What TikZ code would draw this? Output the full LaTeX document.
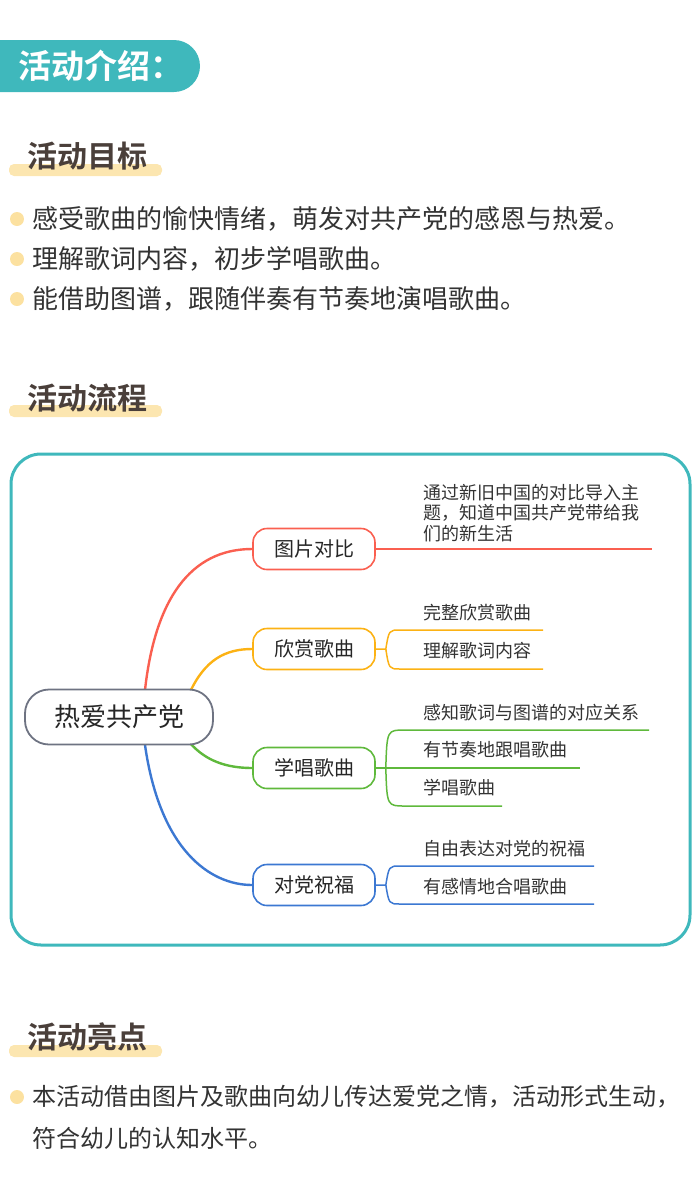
\documentclass[tikz,border=0pt]{standalone}
\usepackage{fontspec}
\setmainfont{Noto Sans CJK SC}
\newfontfamily\cjkb{Noto Sans CJK SC Bold}
\begin{document}
\begin{tikzpicture}[x=1pt,y=-1pt,
  txt/.style={anchor=west,inner sep=0pt,text=black!80,font=\fontsize{26}{30}\selectfont},
  ttl/.style={anchor=west,inner sep=0pt,text={rgb,255:red,74;green,63;blue,58},font=\cjkb\fontsize{30}{34}\selectfont},
  bar/.style={fill={rgb,255:red,252;green,230;blue,176},rounded corners=5pt},
  dot/.style={circle,fill={rgb,255:red,252;green,225;blue,160},minimum size=14pt,inner sep=0pt},
  nd/.style={draw,line width=1.6pt,rounded corners=14pt,minimum width=122pt,minimum height=41pt,fill=white,text=black!85,font=\fontsize{20}{24}\selectfont},
  lf/.style={anchor=west,inner sep=0pt,text=black!80,font=\fontsize{18}{20}\selectfont},
  br/.style={line width=1.8pt},
  thinbr/.style={line width=1.5pt}]
\definecolor{teal}{RGB}{63,184,188}
\definecolor{rd}{RGB}{250,95,80}
\definecolor{og}{RGB}{252,178,20}
\definecolor{gn}{RGB}{95,185,60}
\definecolor{bl}{RGB}{60,120,210}
\useasboundingbox (0,0) rectangle (700,1189);
% header
\begin{scope}
\clip (0,0) rectangle (700,1189);
\fill[teal,rounded corners=26pt] (-40,40) rectangle (200,92);
\end{scope}
\node[anchor=west,inner sep=0pt,text=white,font=\cjkb\fontsize{33}{36}\selectfont] (hdr) at (18,66) {活动介绍：};
% section 1
\fill[bar] (9,164) rectangle (162,176);
\node[ttl] (t1) at (27,156) {活动目标};
\node[dot] (d1) at (17,219) {}; \node[txt] (b1) at (32,219) {感受歌曲的愉快情绪，萌发对共产党的感恩与热爱。};
\node[dot] (d2) at (17,259) {}; \node[txt] (b2) at (32,259) {理解歌词内容，初步学唱歌曲。};
\node[dot] (d3) at (17,299) {}; \node[txt] (b3) at (32,299) {能借助图谱，跟随伴奏有节奏地演唱歌曲。};
% section 2
\fill[bar] (9,405) rectangle (162,417);
\node[ttl] (t2) at (27,398) {活动流程};
\draw[teal,line width=3pt,rounded corners=30pt] (11,454) rectangle (690,945);
% mind map branches
\coordinate (rt1) at (145,690); \coordinate (rt2) at (190,692);
\coordinate (rb1) at (145,745); \coordinate (rb2) at (190,743);
\node[nd,draw=rd] (n1) at (314,549) {图片对比};
\node[nd,draw=og] (n2) at (314,649) {欣赏歌曲};
\node[nd,draw=gn] (n3) at (314,768) {学唱歌曲};
\node[nd,draw=bl] (n4) at (314,885) {对党祝福};
\draw[rd,br,line width=2.4pt] (rt1) .. controls (155,600) and (190,549) .. (n1.west);
\draw[og,br,line width=2.4pt] (rt2) .. controls (205,660) and (225,649) .. (n2.west);
\draw[gn,br,line width=2.4pt] (rb2) .. controls (205,760) and (225,768) .. (n3.west);
\draw[bl,br,line width=2.4pt] (rb1) .. controls (160,850) and (210,885) .. (n4.west);
\node[draw={rgb,255:red,110;green,115;blue,130},line width=1.8pt,rounded corners=24pt,minimum width=188pt,minimum height=55pt,fill=white,text=black!85,font=\fontsize{26}{30}\selectfont] (root) at (119,717) {热爱共产党};
% leaves
\coordinate (e1) at (652,549);
\draw[rd,thinbr] (n1.east) -- (e1);
\node[lf,align=left,font=\fontsize{18}{20.5}\selectfont] (l1) at (423,513) {通过新旧中国的对比导入主\\题，知道中国共产党带给我\\们的新生活};
\coordinate (e21) at (543,630); \coordinate (e22) at (543,669);
\draw[og,thinbr] (n2.east) -- ++(10,0) .. controls (389,630) .. (400,630) -- (e21);
\draw[og,thinbr] (n2.east) ++(10,0) .. controls (389,669) .. (400,669) -- (e22);
\node[lf] (l21) at (423,613) {完整欣赏歌曲};
\node[lf] (l22) at (423,651) {理解歌词内容};
\coordinate (e31) at (649,730); \coordinate (e32) at (580,768); \coordinate (e33) at (502,806);
\draw[gn,thinbr] (n3.east) -- (e32);
\draw[gn,thinbr] (n3.east) ++(10,0) .. controls (387,730) .. (405,730) -- (e31);
\draw[gn,thinbr] (n3.east) ++(10,0) .. controls (387,806) .. (405,806) -- (e33);
\node[lf] (l31) at (423,713) {感知歌词与图谱的对应关系};
\node[lf] (l32) at (423,750) {有节奏地跟唱歌曲};
\node[lf] (l33) at (423,788) {学唱歌曲};
\coordinate (e41) at (594,866); \coordinate (e42) at (594,904);
\draw[bl,thinbr] (n4.east) -- ++(10,0) .. controls (389,866) .. (400,866) -- (e41);
\draw[bl,thinbr] (n4.east) ++(10,0) .. controls (389,904) .. (400,904) -- (e42);
\node[lf] (l41) at (423,849) {自由表达对党的祝福};
\node[lf] (l42) at (423,887) {有感情地合唱歌曲};
% section 3
\fill[bar] (9,1045) rectangle (162,1057);
\node[ttl] (t3) at (27,1037) {活动亮点};
\node[dot] (d4) at (17,1097) {};
\node[txt,font=\fontsize{24}{28}\selectfont] (b4) at (32,1097) {本活动借由图片及歌曲向幼儿传达爱党之情，活动形式生动，};
\node[txt,font=\fontsize{24}{28}\selectfont] (b5) at (32,1138) {符合幼儿的认知水平。};
\end{tikzpicture}
\end{document}
